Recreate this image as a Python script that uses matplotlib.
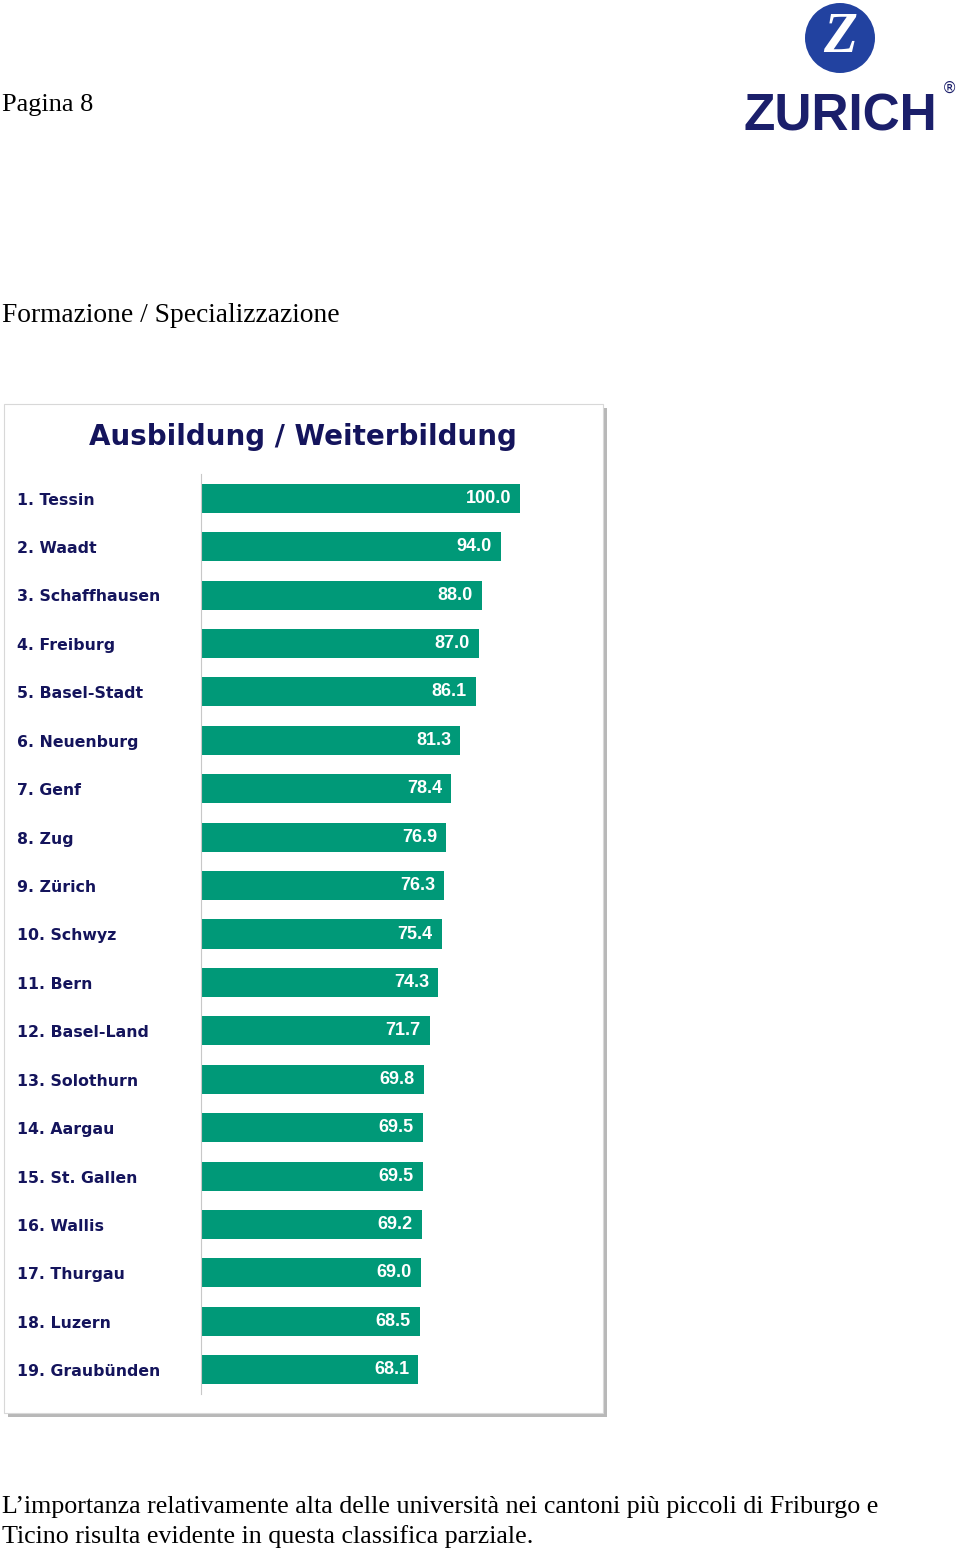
import matplotlib
matplotlib.use('Agg')
import matplotlib.pyplot as plt
from matplotlib import patches
from matplotlib import transforms

# data
cantons = ['1. Tessin', '2. Waadt', '3. Schaffhausen', '4. Freiburg', '5. Basel-Stadt',
           '6. Neuenburg', '7. Genf', '8. Zug', '9. Zürich', '10. Schwyz', '11. Bern',
           '12. Basel-Land', '13. Solothurn', '14. Aargau', '15. St. Gallen', '16. Wallis',
           '17. Thurgau', '18. Luzern', '19. Graubünden']
scores = [100.0, 94.0, 88.0, 87.0, 86.1, 81.3, 78.4, 76.9, 76.3, 75.4, 74.3,
          71.7, 69.8, 69.5, 69.5, 69.2, 69.0, 68.5, 68.1]

W, H = 960, 1556
green = '#009978'
navy = '#14145c'
serif = ['Liberation Serif', 'DejaVu Serif']


def px(x, y):
    # pixel position (from top-left) -> figure fraction
    return x / W, 1 - y / H


fig = plt.figure(figsize=(W / 100, H / 100), dpi=100)
fig.patch.set_facecolor('white')

# page header
fig.text(*px(2, 105), 'Pagina 8', family=serif, fontsize=19, va='center', ha='left')
fig.text(*px(2, 315), 'Formazione / Specializzazione', family=serif, fontsize=19.8,
         va='center', ha='left')

# logo
cx, cy = px(840, 38)
logo = patches.Ellipse((cx, cy), 70 / W, 70 / H, transform=fig.transFigure,
                       facecolor='#2242a0', edgecolor='none')
fig.patches.append(logo)
fig.text(cx, cy, 'Z', color='white', family=serif, fontsize=40, fontweight='bold',
         style='italic', ha='center', va='center')
fig.text(*px(840, 117), 'ZURICH', color='#1b1f6b', family=['Liberation Sans', 'DejaVu Sans'],
         fontsize=37, fontweight='bold', ha='center', va='center')
fig.text(*px(950, 88), '®', color='#1b1f6b', fontsize=11, ha='center', va='center')

# chart frame with shadow
x0, y0 = px(4, 1413)
fw, fh = 599 / W, 1009 / H
shadow = patches.Rectangle((x0 + 4 / W, y0 - 4 / H), fw, fh, transform=fig.transFigure,
                           facecolor='#b8b8b8', edgecolor='none')
frame = patches.Rectangle((x0, y0), fw, fh, transform=fig.transFigure,
                          facecolor='white', edgecolor='#d8d8d8', linewidth=0.8)
fig.patches.extend([shadow, frame])

fig.text(*px(303, 437), 'Ausbildung / Weiterbildung', color=navy, fontsize=20,
         fontweight='bold', ha='center', va='center')

# bar axes
ax = fig.add_axes([201 / W, 1 - 1394 / H, 319 / W, 920 / H])
ax.set_zorder(5)
ax.patch.set_alpha(0)
y = list(range(len(cantons)))
ax.barh(y, scores, height=0.6, color=green)
ax.set_xlim(0, 100)
ax.set_ylim(len(cantons) - 0.5, -0.5)
for s in ['top', 'right', 'bottom']:
    ax.spines[s].set_visible(False)
ax.spines['left'].set_color('#c8c8c8')
ax.spines['left'].set_linewidth(0.8)
ax.set_xticks([])
ax.set_yticks([])

lab = transforms.blended_transform_factory(fig.transFigure, ax.transData)
for i, (name, v) in enumerate(zip(cantons, scores)):
    ax.text(17 / W, i + 0.04, name, transform=lab, color=navy, fontsize=11.3,
            fontweight='bold', ha='left', va='center')
    ax.annotate('%.1f' % v, (v, i), xytext=(-9, 0), textcoords='offset pixels',
                color='white', fontsize=13, fontweight='bold', ha='right', va='center',
                family=['Liberation Sans Narrow', 'Liberation Sans', 'DejaVu Sans'])

# caption
fig.text(*px(2, 1507), 'L\u2019importanza relativamente alta delle università nei cantoni più '
         'piccoli di Friburgo e', family=serif, fontsize=18.7, va='center', ha='left')
fig.text(*px(2, 1537), 'Ticino risulta evidente in questa classifica parziale.',
         family=serif, fontsize=18.7, va='center', ha='left')

fig.savefig('out.png', dpi=100)
